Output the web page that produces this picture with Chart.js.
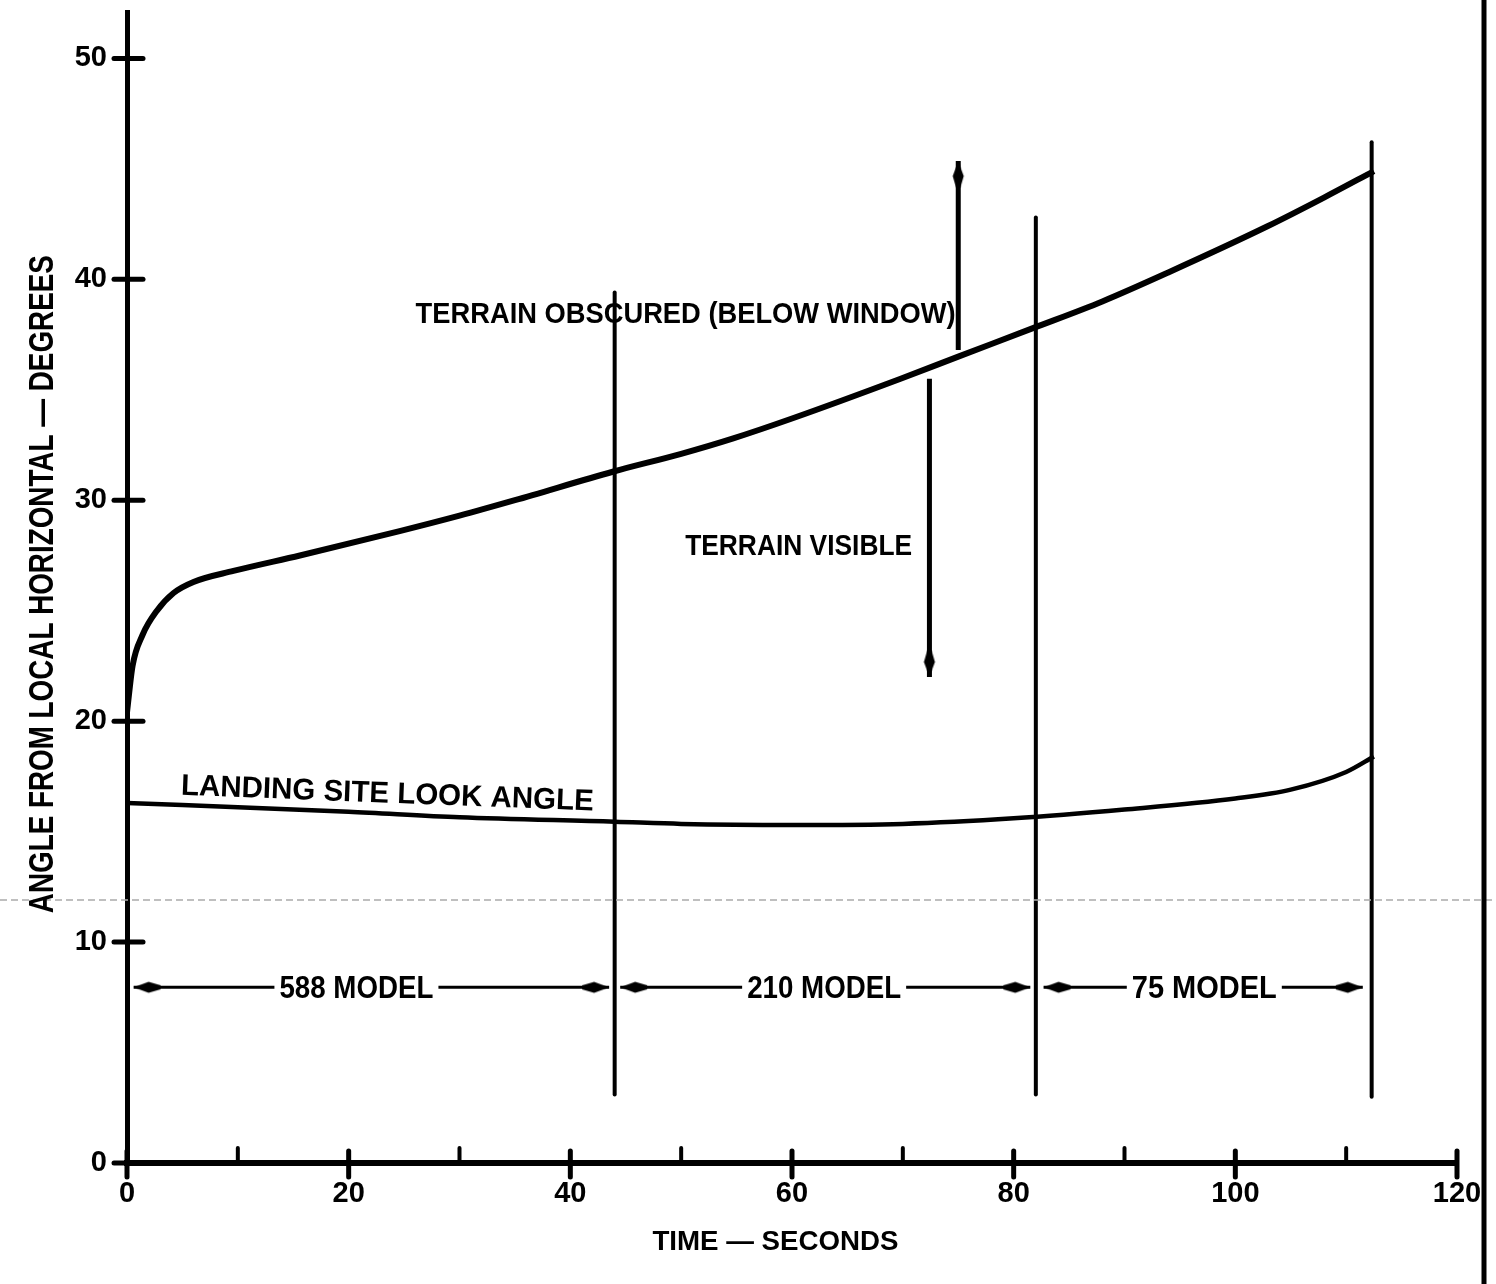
<!DOCTYPE html>
<html>
<head>
<meta charset="utf-8">
<script src="https://cdn.jsdelivr.net/npm/chart.js@4.4.0/dist/chart.umd.min.js"></script>
<style>
  html, body { margin: 0; padding: 0; background: #fff; }
</style>
</head>
<body>
<canvas id="myChart" width="1496" height="1284"></canvas>
<script>
// upper curve (window cut-off angle)
var upperTime  = [0, 0.5, 1.4, 2.7, 4.2, 6, 9.6, 15.6, 24.6, 30, 35, 43.9, 50, 54.7, 60, 69.8, 75, 81.8, 88, 93.9, 102.9, 108, 112.5];
var upperAngle = [20.4, 22.5, 23.9, 25.0, 25.8, 26.3, 26.8, 27.5, 28.6, 29.3, 30.0, 31.3, 32.1, 32.8, 33.7, 35.5, 36.5, 37.8, 39.0, 40.3, 42.4, 43.7, 44.9];

// landing site look angle
var lowerTime  = [0, 10, 20, 30, 44, 50, 60, 70, 80, 90, 100, 105, 110, 112.5];
var lowerAngle = [16.3, 16.1, 15.9, 15.65, 15.45, 15.35, 15.3, 15.35, 15.6, 16.0, 16.5, 16.9, 17.7, 18.4];

// model change boundaries
var boundaryTime   = [44, 82, 112.3];
var boundaryTop    = [39.4, 42.8, 46.2];
var boundaryBottom = [3.1, 3.1, 3.0];

// model spans
var modelNames = ['588 MODEL', '210 MODEL', '75 MODEL'];
var modelStart = [0.6, 44.5, 82.7];
var modelEnd   = [43.5, 81.5, 111.5];
var modelMid   = [20.7, 62.9, 97.2];
var modelLevel = 7.95;

// obscured / visible arrows
var upArrowTime = 75.0;
var upArrowFrom = 36.8;
var upArrowTo   = 45.35;
var downArrowTime = 72.4;
var downArrowFrom = 35.5;
var downArrowTo   = 22.0;

// axis ticks
var timeTicks  = [0, 20, 40, 60, 80, 100, 120];
var angleTicks = [0, 10, 20, 30, 40, 50];

var FONT = '"Liberation Sans", Arial, sans-serif';

// arrowhead drawn once, used as point style (tip sits at the centre)
var arrowHead = document.createElement('canvas');
arrowHead.width = 64;
arrowHead.height = 16;
(function(){
    var c = arrowHead.getContext('2d');
    c.fillStyle = '#000';
    c.beginPath();
    c.moveTo(32, 8);
    c.lineTo(17, 2.5);
    c.lineTo(5, 6);
    c.lineTo(5, 10);
    c.lineTo(17, 13.5);
    c.closePath();
    c.fill();
})();

function pts(xs, ys){
    return xs.map(function(x, i){ return {x: x, y: ys[i]}; });
}

var datasets = [];

datasets.push({
    label: 'Terrain obscured limit',
    data: pts(upperTime, upperAngle),
    borderColor: '#000',
    borderWidth: 6,
    cubicInterpolationMode: 'monotone',
    pointRadius: 0
});
datasets.push({
    label: 'Landing site look angle',
    data: pts(lowerTime, lowerAngle),
    borderColor: '#000',
    borderWidth: 4.5,
    cubicInterpolationMode: 'monotone',
    pointRadius: 0
});

boundaryTime.forEach(function(t, i){
    datasets.push({
        data: [{x: t, y: boundaryBottom[i]}, {x: t, y: boundaryTop[i]}],
        borderColor: '#000',
        borderWidth: 4,
        borderCapStyle: 'round',
        pointRadius: 0
    });
});

modelNames.forEach(function(name, i){
    datasets.push({
        label: name,
        data: [{x: modelStart[i], y: modelLevel}, {x: modelEnd[i], y: modelLevel}],
        borderColor: '#000',
        borderWidth: 3,
        pointStyle: arrowHead,
        pointRadius: 4,
        pointBorderWidth: 0,
        pointRotation: [180, 0]
    });
});

datasets.push({
    data: [{x: upArrowTime, y: upArrowFrom}, {x: upArrowTime, y: upArrowTo}],
    borderColor: '#000',
    borderWidth: 5,
    pointStyle: arrowHead,
    pointRadius: [0, 4],
    pointBorderWidth: 0,
    pointRotation: [0, -90]
});
datasets.push({
    data: [{x: downArrowTime, y: downArrowFrom}, {x: downArrowTime, y: downArrowTo}],
    borderColor: '#000',
    borderWidth: 5,
    pointStyle: arrowHead,
    pointRadius: [0, 4],
    pointBorderWidth: 0,
    pointRotation: [0, 90]
});

// text placed in data units, width in px
var notes = [
    {text: 'TERRAIN OBSCURED (BELOW WINDOW)', x: 50.4, y: 38.5, w: 540, size: 30},
    {text: 'TERRAIN VISIBLE', x: 60.6, y: 28.0, w: 227, size: 30},
    {text: 'LANDING SITE LOOK ANGLE', x: 23.5, y: 16.8, w: 413, size: 30, rot: 2.2},
    {text: 'TIME \u2014 SECONDS', x: 58.5, y: -3.5, w: 246, size: 27},
    {text: 'ANGLE FROM LOCAL HORIZONTAL \u2014 DEGREES', x: -7.85, y: 26.2, w: 658, size: 35, rot: -90}
];
modelNames.forEach(function(name, i){
    notes.push({text: name, x: modelMid[i], y: modelLevel, w: i == 2 ? 145 : 154, size: 31, bg: true});
});

var extras = {
    id: 'extras',
    afterDatasetsDraw: function(chart){
        var ctx = chart.ctx;
        var xs = chart.scales.x;
        var ys = chart.scales.y;
        ctx.save();

        // faint scan streak
        ctx.strokeStyle = '#aaa';
        ctx.lineWidth = 1.5;
        ctx.setLineDash([7, 4]);
        var sy = ys.getPixelForValue(11.9);
        ctx.beginPath();
        ctx.moveTo(0, sy);
        ctx.lineTo(chart.width, sy);
        ctx.stroke();
        ctx.setLineDash([]);

        // tick marks crossing the axes
        ctx.strokeStyle = '#000';
        ctx.lineCap = 'round';
        xs.ticks.forEach(function(t){
            var px = xs.getPixelForValue(t.value);
            var major = timeTicks.indexOf(t.value) >= 0;
            ctx.lineWidth = major ? 5 : 4;
            ctx.beginPath();
            ctx.moveTo(px, xs.top - (major ? 12 : 15));
            ctx.lineTo(px, xs.top + (major ? 14 : 0));
            ctx.stroke();
        });
        ys.ticks.forEach(function(t){
            var py = ys.getPixelForValue(t.value);
            ctx.lineWidth = 5;
            ctx.beginPath();
            ctx.moveTo(ys.right - 13, py);
            ctx.lineTo(ys.right + 16, py);
            ctx.stroke();
        });

        // labels
        notes.forEach(function(n){
            var px = xs.getPixelForValue(n.x);
            var py = ys.getPixelForValue(n.y);
            ctx.save();
            ctx.translate(px, py);
            ctx.rotate((n.rot || 0) * Math.PI / 180);
            if (n.bg) {
                ctx.fillStyle = '#fff';
                ctx.fillRect(-n.w / 2 - 5, -n.size * 0.42, n.w + 10, n.size * 0.84);
            }
            ctx.font = 'bold ' + n.size + 'px ' + FONT;
            ctx.textAlign = 'center';
            ctx.textBaseline = 'alphabetic';
            ctx.fillStyle = '#000';
            var tw = ctx.measureText(n.text).width;
            ctx.scale(n.w / tw, 1);
            ctx.fillText(n.text, 0, n.size * 0.358);
            ctx.restore();
        });

        // page frame on the right
        ctx.strokeStyle = '#000';
        ctx.lineWidth = 5;
        ctx.beginPath();
        ctx.moveTo(chart.width - 12, 0);
        ctx.lineTo(chart.width - 12, chart.height);
        ctx.stroke();

        ctx.restore();
    }
};

var tickFont = {family: FONT, weight: 'bold', size: 29};

var ctx = document.getElementById('myChart');
var myChart = new Chart(ctx, {
    type: 'line',
    data: {datasets: datasets},
    options: {
        responsive: false,
        animation: false,
        events: [],
        layout: {padding: {top: 12, right: 39, left: 0, bottom: 0}},
        plugins: {
            legend: {display: false},
            tooltip: {enabled: false}
        },
        scales: {
            x: {
                type: 'linear',
                min: 0,
                max: 120,
                grid: {display: false, drawTicks: false},
                border: {display: true, color: '#000', width: 6},
                ticks: {
                    stepSize: 10,
                    autoSkip: false,
                    maxRotation: 0,
                    padding: 14,
                    color: '#000',
                    font: tickFont,
                    callback: function(value){
                        return timeTicks.indexOf(value) >= 0 ? value : '';
                    }
                },
                afterFit: function(scale){ scale.height = 121; }
            },
            y: {
                type: 'linear',
                min: 0,
                max: 52.1,
                grid: {display: false, drawTicks: false},
                border: {display: true, color: '#000', width: 5},
                ticks: {
                    stepSize: 10,
                    includeBounds: false,
                    padding: 20,
                    color: '#000',
                    font: tickFont,
                    callback: function(value){
                        return angleTicks.indexOf(value) >= 0 ? value : '';
                    }
                },
                afterFit: function(scale){
                    scale.width = 127;
                    scale.paddingTop = 0;
                }
            }
        }
    },
    plugins: [extras]
});
</script>
</body>
</html>
